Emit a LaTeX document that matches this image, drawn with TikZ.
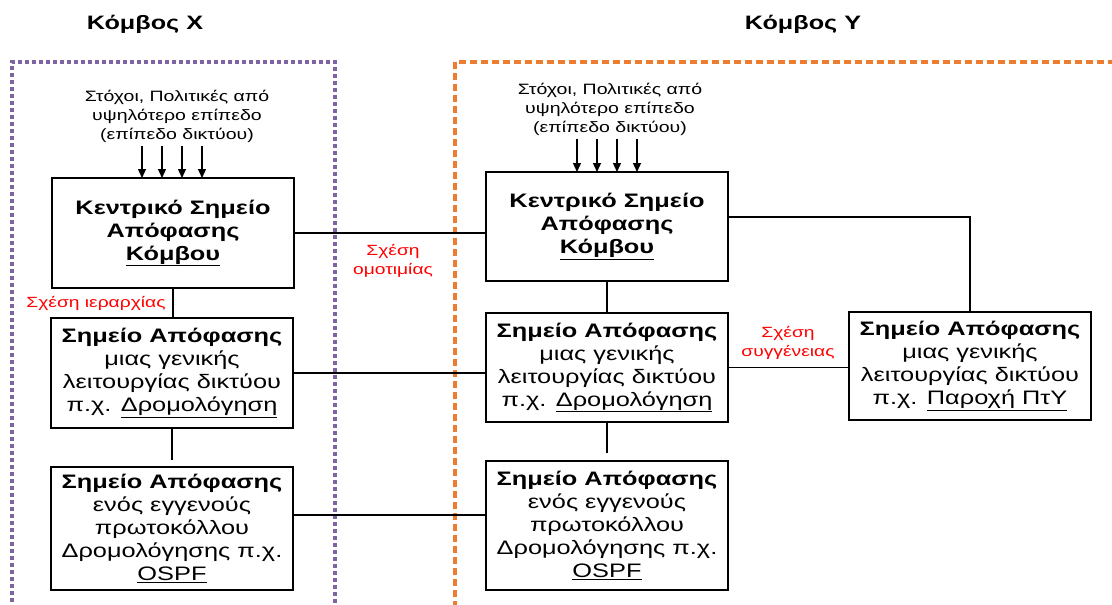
\documentclass[tikz,border=0pt]{standalone}
\usepackage{fontspec}
\setmainfont{Liberation Sans}[FakeStretch=1.3]
\usetikzlibrary{arrows.meta}

\definecolor{nodeX}{RGB}{128,100,162}
\definecolor{nodeY}{RGB}{237,125,49}

\tikzset{
  dpbox/.style={draw, line width=1.3pt, minimum width=242pt, align=center,
    inner sep=0pt, outer sep=0pt, font=\fontsize{19.5}{23}\selectfont},
  link/.style={line width=1.3pt},
  goal/.style={line width=1.3pt, -{Triangle[width=8pt,length=9pt]}},
  rel/.style={text=red, align=center, font=\fontsize{14.8}{18.5}\selectfont},
  goaltext/.style={align=center, font=\fontsize{15}{19}\selectfont},
  title/.style={font=\fontsize{19.4}{23}\selectfont\bfseries},
  frameX/.style={draw=nodeX, line width=3.2pt, dash pattern=on 4pt off 3pt},
  frameY/.style={draw=nodeY, line width=3.2pt, dash pattern=on 7pt off 4pt}
}

\begin{document}
\begin{tikzpicture}[x=1pt,y=-1pt]
\useasboundingbox (0,0) rectangle (1112,605);
\clip (0,0) rectangle (1112,605);
\fill[white] (0,0) rectangle (1112,605);

% node frames
\draw[frameX] (12,630) -- (12,62) -- (335,62) -- (335,630);
\draw[frameY] (455,630) -- (455,62) -- (1130,62);

\node[title] (tX) at (145,24) {Κόμβος Χ};
\node[title] (tY) at (803,24) {Κόμβος Υ};

% goals from the upper (network) level
\node[goaltext] (gX) at (177,116) {Στόχοι, Πολιτικές από\\υψηλότερο επίπεδο\\(επίπεδο δικτύου)};
\node[goaltext] (gY) at (610,109) {Στόχοι, Πολιτικές από\\υψηλότερο επίπεδο\\(επίπεδο δικτύου)};

% decision points, node X
\node[dpbox, minimum height=110pt] (X1) at (173,233)
  {\textbf{Κεντρικό Σημείο}\\\textbf{Απόφασης}\\\textbf{\underline{Κόμβου}}};
\node[dpbox, minimum height=110pt] (X2) at (172,373)
  {\textbf{Σημείο Απόφασης}\\μιας γενικής\\λειτουργίας δικτύου\\π.χ. \underline{Δρομολόγηση}};
\node[dpbox, minimum height=123pt] (X3) at (172,528.5)
  {\textbf{Σημείο Απόφασης}\\ενός εγγενούς\\πρωτοκόλλου\\Δρομολόγησης π.χ.\\\underline{OSPF}};

% decision points, node Y
\node[dpbox, minimum height=109pt] (Y1) at (607,226.5)
  {\textbf{Κεντρικό Σημείο}\\\textbf{Απόφασης}\\\textbf{\underline{Κόμβου}}};
\node[dpbox, minimum height=109pt] (Y2) at (607,367.5)
  {\textbf{Σημείο Απόφασης}\\μιας γενικής\\λειτουργίας δικτύου\\π.χ. \underline{Δρομολόγηση}};
\node[dpbox, minimum height=129pt] (Y3) at (607,525.5)
  {\textbf{Σημείο Απόφασης}\\ενός εγγενούς\\πρωτοκόλλου\\Δρομολόγησης π.χ.\\\underline{OSPF}};
\node[dpbox, minimum height=108pt] (Z) at (970,366)
  {\textbf{Σημείο Απόφασης}\\μιας γενικής\\λειτουργίας δικτύου\\π.χ. \underline{Παροχή ΠτΥ}};

% incoming goal arrows
\foreach \i/\x in {1/142,2/162,3/182,4/202}
  \coordinate (ax\i) at (\x,146);
\foreach \i/\x in {1/577,2/597,3/617,4/637}
  \coordinate (ay\i) at (\x,139);
\foreach \i in {1,...,4} {
  \draw[goal] (ax\i) -- (ax\i |- X1.north);
  \draw[goal] (ay\i) -- (ay\i |- Y1.north);
}

% relations
\draw[link] (X1.east) -- (X1.east -| Y1.west);
\draw[link] (X1.south) -- (X1.south |- X2.north);
\draw[link] (X2.east) -- (X2.east -| Y2.west);
\draw[link] (X2.south) -- ([yshift=7pt]X3.north);
\draw[link] ([yshift=13.5pt]X3.east) -- ([yshift=13.5pt]X3.east -| Y3.west);
\draw[link] (Y1.south) -- (Y2.north);
\draw[link] (Y2.south) -- ([yshift=8pt]Y3.north);
\draw[link] ([yshift=9.5pt]Y1.east) -| (Z.north);
\draw[link] (Y2.east) -- (Y2.east -| Z.west);

\node[rel] (rH) at (96,303) {Σχέση ιεραρχίας};
\node[rel] (rP) at (393,261) {Σχέση\\ομοτιμίας};
\node[rel] (rS) at (788,343) {Σχέση\\συγγένειας};
\end{tikzpicture}
\end{document}
